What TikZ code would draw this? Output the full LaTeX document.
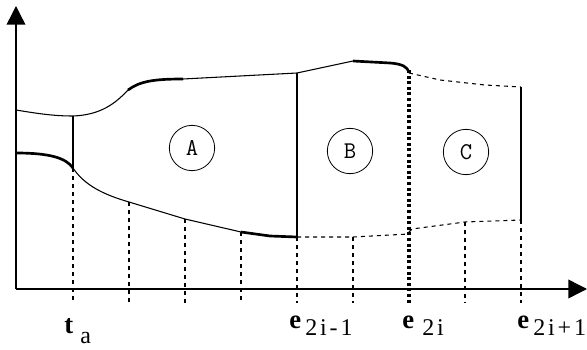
\documentclass[tikz,border=0pt]{standalone}
\usepackage{fontspec}
\setmainfont{Liberation Serif}
\newfontfamily\subfont[LetterSpace=12]{Liberation Serif}
\usetikzlibrary{arrows.meta}
\usetikzlibrary{positioning}

\begin{document}
\begin{tikzpicture}[
    x=0.75pt, y=-0.75pt,
    line join=round,
    >={Triangle[length=14pt,width=14pt]}
  ]

  % Styles
  \tikzset{
    axis/.style={line width=1.1pt, ->},
    edge/.style={line width=0.8pt},
    bold/.style={line width=2pt},
    guide/.style={line width=0.8pt, dash pattern=on 3pt off 3pt},
    border/.style={line width=2.6pt, dash pattern=on 2.2pt off 2pt},
    zone/.style={draw, circle, line width=0.6pt, minimum size=34pt, inner sep=0pt, font=\ttfamily\fontsize{18}{18}\selectfont},
    tick/.style={font=\fontsize{20}{20}\selectfont, inner sep=0pt},
    sub/.style={font=\subfont\fontsize{18}{18}\selectfont}
  }

  \useasboundingbox (0,0) rectangle (587,350);

  % Axes
  \coordinate (o) at (16,289);
  \draw[axis] (o) -- (16,6);
  \draw[axis] (o) -- (587,289);

  % Upper boundary
  \draw[edge] (16,110) .. controls (40,114) and (55,116) .. (73,116)
    .. controls (100,115) and (115,104) .. (128,90)
    .. controls (140,81) and (155,79) .. (183,79) -- (297,73) -- (353,61)
    -- (390,63) .. controls (403,64) and (407,67) .. (409,73);
  \draw[bold] (128,90) .. controls (140,81) and (155,79) .. (183,79);
  \draw[bold] (353,61) -- (390,63) .. controls (403,64) and (407,67) .. (409,72);
  \draw[guide] (409,73) -- (440,80) -- (485,85) -- (521,87);

  % Lower boundary
  \draw[edge] (16,153) .. controls (50,153) and (66,158) .. (73,168)
    .. controls (85,186) and (105,195) .. (129,202) -- (185,219) -- (241,232)
    -- (270,236) -- (297,237);
  \draw[bold] (16,153) .. controls (50,153) and (66,158) .. (73,168);
  \draw[bold] (241,232) -- (270,236) -- (297,237);
  \draw[guide] (297,237) -- (353,237) -- (409,234);
  \draw[guide] (409,232) -- (412,229) -- (465,222) -- (521,220);

  % Section borders
  \draw[edge] (73,116) -- (73,168);
  \draw[edge] (297,73) -- (297,237);
  \draw[edge] (521,87) -- (521,220);
  \draw[border] (409,70) -- (409,303);

  % Sampling lines
  \foreach \xs/\ys in {73/168, 129/202, 185/219, 241/232, 297/237, 353/237, 465/222, 521/220}
    \draw[guide] (\xs,\ys) -- (\xs,303);

  % Zones
  \node[zone] (zoneA) at (192,148) {A};
  \node[zone] (zoneB) at (350,151) {B};
  \node[zone] (zoneC) at (466,152) {C};

  % Axis labels
  \node[tick, anchor=base west] (t) at (64,333) {\textbf{t}};
  \node[tick, sub, anchor=base west] (tsub) at (80,343) {a};
  \node[tick, anchor=base west] (e1) at (289,328) {\textbf{e}};
  \node[tick, sub, anchor=base west] (e1sub) at (305,335) {2i-1};
  \node[tick, anchor=base west] (e2) at (402,328) {\textbf{e}};
  \node[tick, sub, anchor=base west] (e2sub) at (422,335) {2i};
  \node[tick, anchor=base west] (e3) at (517,328) {\textbf{e}};
  \node[tick, sub, anchor=base west] (e3sub) at (533,335) {2i+1};

\end{tikzpicture}
\end{document}
